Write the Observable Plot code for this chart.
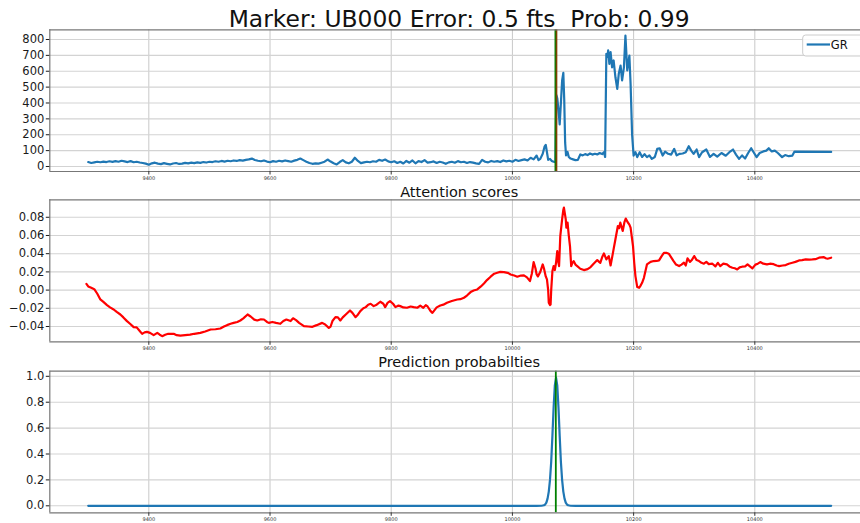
<!DOCTYPE html>
<html><head><meta charset="utf-8">
<script src="https://cdn.jsdelivr.net/npm/d3@7"></script>
<script src="https://cdn.jsdelivr.net/npm/@observablehq/plot@0.6"></script>
<style>
html,body{margin:0;padding:0;background:#fff;overflow:hidden;width:860px;height:523px;}
#chart svg{display:block;}
svg text{white-space:pre;}
</style></head><body><div id="chart"></div>
<script>
// ---------- data ----------
const mainTitle = "Marker: UB000 Error: 0.5 fts  Prob: 0.99";
const attTitle = "Attention scores";
const probTitle = "Prediction probabilties";
const legendLabel = "GR";

const xTicks = [9400, 9600, 9800, 10000, 10200, 10400];
const grTicks = [0, 100, 200, 300, 400, 500, 600, 700, 800];
const attTicks = [-0.04, -0.02, 0.0, 0.02, 0.04, 0.06, 0.08];
const probTicks = [0.0, 0.2, 0.4, 0.6, 0.8, 1.0];

const actualDepth = 10070.8;
const predictedDepth = 10072.8;

// GR log: regularly sampled part (every 5 ft from 9300)
const grBaseStart = 9300, grBaseStep = 5;
const grBaseValue = [
  28, 22, 26, 30, 27, 31, 28, 33, 29, 34,
  30, 36, 32, 28, 34, 27, 30, 25, 22, 18,
  11, 20, 24, 18, 15, 21, 17, 13, 19, 22,
  16, 18, 23, 20, 24, 21, 26, 23, 28, 25,
  30, 28, 33, 30, 35, 31, 36, 33, 38, 35,
  40, 37, 42, 45, 50, 41, 36, 33, 38, 31,
  27, 34, 30, 36, 32, 38, 34, 30, 37, 42,
  50, 40, 30, 22, 17, 20, 18, 24, 30, 44,
  31, 20, 13, 28, 40, 26, 20, 30, 55, 35,
  21, 26, 30, 27, 33, 30, 42, 36, 44, 32,
  27, 33, 22, 30, 19, 35, 24, 38, 20, 34,
  28, 40, 25, 27, 32, 22, 30, 25, 17, 26,
  30, 24, 34, 27, 30, 22, 28, 24, 20, 17,
  42, 30, 26, 35, 30, 34, 28, 38, 32, 36,
  30, 42, 35, 40, 45, 38, 55, 45
];
// GR log: irregular part
const grTailDepth = [10040, 10043, 10046, 10050, 10053, 10055, 10057, 10059, 10062, 10065,
  10068, 10071, 10072.5, 10074, 10076, 10078, 10080, 10082, 10084, 10085.5,
  10087, 10088.5, 10091, 10093, 10096, 10100, 10104, 10108, 10112, 10116,
  10120, 10124, 10128, 10132, 10136, 10140, 10144, 10148, 10151, 10153,
  10155, 10157, 10158, 10160, 10162, 10164.5, 10167, 10170, 10173, 10175.5,
  10178.5, 10181, 10184, 10186.5, 10189.5, 10191.5, 10193, 10195, 10197.5, 10200,
  10203, 10206, 10210, 10214, 10218, 10222, 10226, 10230, 10235, 10239,
  10243, 10248, 10252, 10257, 10262, 10267, 10271, 10276, 10281, 10286,
  10291, 10295, 10299, 10304, 10308, 10313, 10320, 10326, 10332, 10338,
  10345, 10352, 10358, 10364, 10369, 10374, 10379, 10384, 10389, 10394,
  10398, 10403, 10408, 10414, 10419, 10423, 10428, 10433, 10438, 10445,
  10450, 10456, 10462, 10465.5, 10526];
const grTailValue = [69, 40, 48, 80, 125, 136, 90, 42, 48, 35,
  30, 28, 450, 430, 360, 265, 400, 540, 590, 420,
  150, 70, 92, 60, 50, 45, 40, 42, 76, 70,
  78, 72, 82, 75, 80, 76, 85, 78, 90, 60,
  710, 690, 731, 647, 720, 625, 668, 562, 489, 584,
  636, 542, 625, 825, 605, 657, 699, 521, 200, 69,
  90, 59, 90, 60, 78, 59, 70, 48, 60, 111,
  115, 69, 94, 80, 75, 111, 70, 80, 82, 90,
  128, 100, 80, 107, 59, 90, 107, 60, 80, 62,
  85, 68, 90, 107, 75, 48, 70, 50, 85, 115,
  90, 59, 85, 95, 100, 115, 95, 100, 85, 59,
  72, 65, 69, 94, 92];

// Attention scores
const attDepth = [9297, 9300, 9305, 9310, 9315, 9320, 9325, 9331, 9336, 9342,
  9347, 9353, 9358, 9364, 9369, 9375, 9380, 9385, 9389, 9393,
  9397, 9402, 9408, 9414, 9418, 9422, 9427, 9432, 9441, 9446,
  9452, 9460, 9468, 9475, 9485, 9493, 9502, 9510, 9518, 9524,
  9529, 9535, 9540, 9546, 9551, 9556, 9563, 9568, 9574, 9579,
  9585, 9590, 9595, 9598, 9604, 9610, 9617, 9622, 9627, 9634,
  9638, 9643, 9648, 9656, 9663, 9670, 9677, 9686, 9691, 9697,
  9700, 9703, 9708, 9712, 9716, 9720, 9725, 9732, 9736, 9741,
  9745, 9749, 9754, 9758, 9762, 9766, 9771, 9776, 9782, 9787,
  9790, 9794, 9798, 9803, 9807, 9812, 9815, 9820, 9826, 9832,
  9837, 9843, 9848, 9853, 9857, 9860, 9865, 9868, 9875, 9881,
  9886, 9892, 9900, 9909, 9914, 9920, 9925, 9931, 9936, 9942,
  9948, 9953, 9958, 9964, 9970, 9975, 9980, 9986, 9992, 9997,
  10003, 10008, 10014, 10019, 10024, 10029, 10032, 10035, 10038, 10040,
  10042, 10046, 10050, 10052, 10055, 10057, 10059, 10060, 10062, 10063,
  10064, 10066, 10068, 10070, 10072, 10074, 10076, 10077, 10079, 10082,
  10084, 10085, 10087, 10088, 10089, 10091, 10093, 10095, 10097, 10099,
  10101, 10104, 10107, 10112, 10118, 10124, 10129, 10134, 10140, 10143,
  10145, 10148, 10151, 10155, 10159, 10162, 10164, 10167, 10170, 10174,
  10176, 10178, 10182, 10185, 10187, 10190, 10193, 10195, 10199, 10201,
  10203, 10206, 10209, 10211, 10214, 10217, 10222, 10228, 10233, 10238,
  10242, 10246, 10250, 10254, 10258, 10262, 10266, 10270, 10275, 10279,
  10283, 10286, 10289, 10293, 10296, 10300, 10304, 10308, 10312, 10316,
  10320, 10324, 10330, 10335, 10339, 10343, 10348, 10354, 10358, 10363,
  10367, 10371, 10375, 10379, 10384, 10388, 10392, 10396, 10401, 10405,
  10409, 10414, 10420, 10425, 10431, 10436, 10440, 10446, 10451, 10456,
  10462, 10467, 10473, 10478, 10484, 10490, 10495, 10500, 10506, 10510,
  10514, 10517, 10520, 10526];
const attValue = [0.0069, 0.004, 0.0025, 0.001, -0.004, -0.0103, -0.013, -0.0165, -0.019, -0.0213,
  -0.024, -0.0268, -0.030, -0.0341, -0.037, -0.0407, -0.041, -0.045, -0.0481, -0.0465,
  -0.0459, -0.047, -0.0495, -0.047, -0.049, -0.0506, -0.049, -0.048, -0.048, -0.0495,
  -0.050, -0.0495, -0.049, -0.048, -0.047, -0.0455, -0.0433, -0.043, -0.0422, -0.040,
  -0.0385, -0.037, -0.036, -0.035, -0.0334, -0.031, -0.0268, -0.029, -0.0325, -0.0334,
  -0.032, -0.0323, -0.035, -0.036, -0.035, -0.036, -0.037, -0.034, -0.0323, -0.034,
  -0.031, -0.033, -0.036, -0.0396, -0.040, -0.0403, -0.0385, -0.036, -0.0378, -0.0415,
  -0.040, -0.034, -0.0297, -0.030, -0.0334, -0.030, -0.0268, -0.0224, -0.025, -0.0297,
  -0.027, -0.0231, -0.020, -0.0187, -0.016, -0.015, -0.0176, -0.016, -0.0128, -0.015,
  -0.0187, -0.014, -0.0121, -0.015, -0.0187, -0.017, -0.0176, -0.019, -0.0194, -0.018,
  -0.0187, -0.0194, -0.017, -0.0195, -0.0165, -0.018, -0.0231, -0.025, -0.019, -0.0169,
  -0.016, -0.0139, -0.012, -0.0103, -0.010, -0.0084, -0.006, -0.0022, -0.0005, 0.0007,
  0.004, 0.0073, 0.011, 0.0147, 0.018, 0.019, 0.020, 0.0198, 0.019, 0.0172,
  0.016, 0.0147, 0.016, 0.0161, 0.014, 0.0099, 0.018, 0.0308, 0.024, 0.0172,
  0.015, 0.020, 0.0282, 0.024, 0.015, 0.0117, 0.000, -0.0139, -0.0165, -0.0158,
  0.000, 0.0209, 0.0264, 0.022, 0.030, 0.0429, 0.030, 0.0264, 0.0594, 0.0778,
  0.088, 0.0906, 0.082, 0.0778, 0.0686, 0.0741, 0.060, 0.0484, 0.0264, 0.030,
  0.0319, 0.028, 0.0264, 0.0235, 0.022, 0.023, 0.0253, 0.029, 0.033, 0.031,
  0.030, 0.036, 0.0403, 0.0337, 0.0374, 0.0271, 0.034, 0.045, 0.0558, 0.0704,
  0.068, 0.0741, 0.065, 0.075, 0.0785, 0.0748, 0.072, 0.0686, 0.0484, 0.030,
  0.0154, 0.0033, 0.0025, 0.0044, 0.008, 0.0135, 0.0282, 0.031, 0.0319, 0.032,
  0.0326, 0.037, 0.041, 0.041, 0.040, 0.036, 0.0319, 0.028, 0.0264, 0.028,
  0.0301, 0.027, 0.0349, 0.031, 0.033, 0.0374, 0.033, 0.0319, 0.030, 0.029,
  0.031, 0.0285, 0.029, 0.026, 0.030, 0.0264, 0.029, 0.0282, 0.026, 0.0246,
  0.024, 0.0227, 0.025, 0.0257, 0.026, 0.0282, 0.026, 0.0238, 0.028, 0.029,
  0.0308, 0.029, 0.0282, 0.029, 0.0285, 0.027, 0.0264, 0.027, 0.0275, 0.029,
  0.0301, 0.031, 0.0326, 0.033, 0.0337, 0.0335, 0.0337, 0.034, 0.0356, 0.036,
  0.0363, 0.035, 0.0345, 0.0356];

// Prediction probabilities
const probDepth = [9300, 10040, 10048, 10052, 10054, 10056, 10058, 10060, 10062, 10064,
  10066, 10068, 10070, 10072, 10074, 10076, 10078, 10080, 10082, 10084,
  10086, 10088, 10090, 10092, 10096, 10104, 10526];
const probValue = [0, 0, 0.0005, 0.004, 0.01, 0.025, 0.055, 0.11, 0.2, 0.34,
  0.54, 0.76, 0.93, 0.99, 0.93, 0.76, 0.54, 0.34, 0.2, 0.11,
  0.055, 0.025, 0.01, 0.004, 0.0005, 0, 0];

// ---------- build tables ----------
const grData = grBaseValue.map((v, i) => ({depth: grBaseStart + i * grBaseStep, value: v}))
  .concat(grTailDepth.map((d, i) => ({depth: d, value: grTailValue[i]})));
const attData = attDepth.map((d, i) => ({depth: d, value: attValue[i]}));
const probData = probDepth.map((d, i) => ({depth: d, value: probValue[i]}));

// ---------- layout ----------
const X_DOMAIN = [9236.6, 10587.6];
const X_RANGE = [49.3, 868];
const X_CENTER = (X_DOMAIN[0] + X_DOMAIN[1]) / 2;
const FONT = "'DejaVu Sans', sans-serif";
const BLUE = "#1f77b4";

function panel({height, marginTop, marginBottom, yDomain, yTicks, yFormat, title, titleSize, titleDy, marks}) {
  return Plot.plot({
    width: 860, height, marginLeft: 49.3, marginRight: 0, marginTop, marginBottom,
    style: {fontFamily: FONT, background: "white", overflow: "visible"},
    x: {domain: X_DOMAIN, range: X_RANGE},
    y: {domain: yDomain},
    marks: [
      Plot.gridX(xTicks, {stroke: "#c8c8c8", strokeOpacity: 1, strokeWidth: 1}),
      Plot.gridY(yTicks, {stroke: "#d3d3d3", strokeOpacity: 1, strokeWidth: 1.1}),
      ...marks,
      Plot.ruleY(yDomain, {stroke: "#777777", strokeWidth: 1.2}),
      Plot.ruleX([X_DOMAIN[0]], {stroke: "#777777", strokeWidth: 1.2}),
      Plot.axisX(xTicks, {tickSize: 3.5, tickPadding: 1.5, fontSize: 5, tickFormat: d => String(d), color: "#333", label: null}),
      Plot.axisY(yTicks, {tickSize: 3.5, tickPadding: 2, fontSize: 11.5, tickFormat: yFormat, color: "#1a1a1a", label: null}),
      Plot.text([{x: X_CENTER, label: title}], {x: "x", text: "label", frameAnchor: "top", textAnchor: "middle",
        lineAnchor: "bottom", dy: titleDy, fontSize: titleSize, fill: "#111"})
    ]
  });
}

const p1 = panel({
  height: 180, marginTop: 29.3, marginBottom: 9,
  yDomain: [-31.5, 861.1], yTicks: grTicks, yFormat: d3.format("d"),
  title: mainTitle, titleSize: 23.4, titleDy: -2.6,
  marks: [
    Plot.line(grData, {x: "depth", y: "value", stroke: BLUE, strokeWidth: 2.2}),
    Plot.ruleX([actualDepth], {stroke: "green", strokeWidth: 1.6}),
    Plot.ruleX([predictedDepth], {stroke: "#804000", strokeWidth: 1.6})
  ]
});

const p2 = panel({
  height: 172, marginTop: 19.3, marginBottom: 10.7,
  yDomain: [-0.0568, 0.0992], yTicks: attTicks, yFormat: d3.format(".2f"),
  title: attTitle, titleSize: 14.5, titleDy: -2.6,
  marks: [
    Plot.line(attData, {x: "depth", y: "value", stroke: "red", strokeWidth: 2.2})
  ]
});

const p3 = panel({
  height: 171, marginTop: 18.7, marginBottom: 10.7,
  yDomain: [-0.054, 1.0394], yTicks: probTicks, yFormat: d3.format(".1f"),
  title: probTitle, titleSize: 14.5, titleDy: -4,
  marks: [
    Plot.line(probData, {x: "depth", y: "value", stroke: BLUE, strokeWidth: 2.2}),
    Plot.ruleX([actualDepth + 0.8], {stroke: "green", strokeWidth: 1.8})
  ]
});

const chart = document.getElementById("chart");
chart.append(p1, p2, p3);

// legend in the top panel
const lg = d3.select(p1).append("g");
lg.append("rect").attr("x", 802.7).attr("y", 35).attr("width", 75).attr("height", 21).attr("rx", 3)
  .attr("fill", "white").attr("fill-opacity", 0.85).attr("stroke", "#cccccc");
lg.append("line").attr("x1", 806.7).attr("x2", 830).attr("y1", 44.5).attr("y2", 44.5)
  .attr("stroke", BLUE).attr("stroke-width", 2.2);
lg.append("text").attr("x", 839.3).attr("y", 48.8).attr("font-size", 11.5)
  .attr("font-family", FONT).attr("fill", "#111").text(legendLabel);
</script></body></html>
